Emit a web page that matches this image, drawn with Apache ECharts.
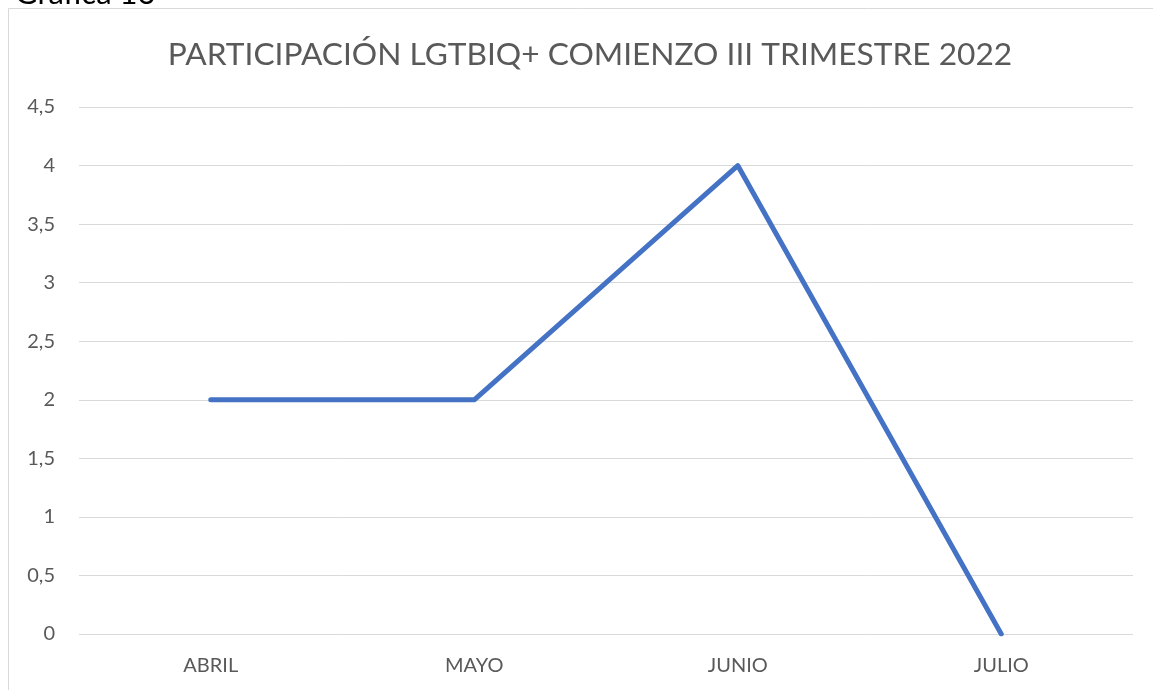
<!DOCTYPE html>
<html><head><meta charset="utf-8">
<script src="https://cdn.jsdelivr.net/npm/echarts@6/dist/echarts.min.js"></script>
<style>html,body{margin:0;padding:0;background:#fff}#c{width:1153px;height:690px}</style>
</head><body><div id="c"></div>
<script>
const categories = ['ABRIL', 'MAYO', 'JUNIO', 'JULIO'];
const values = [2, 2, 4, 0];
const titleText = 'PARTICIPACIÓN LGTBIQ+ COMIENZO III TRIMESTRE 2022';
const captionText = 'Gráfica 16';

const chart = echarts.init(document.getElementById('c'), null, {renderer: 'canvas'});
const font = 'Lato, "Open Sans", sans-serif';
chart.setOption({
  animation: false,
  backgroundColor: '#fff',
  title: {
    text: titleText, left: 585, top: 34, textAlign: 'center',
    textStyle: {fontFamily: font, fontSize: 31.7, fontWeight: 'normal', color: '#595959'}
  },
  graphic: [
    {type: 'rect', shape: {x: 8.5, y: 8.5, width: 1160, height: 700}, style: {fill: 'none', stroke: '#d9d9d9', lineWidth: 1}, z: 0},
    {type: 'text', left: 15, top: -22, style: {text: captionText, font: '31px ' + font, fill: '#000'}}
  ],
  grid: {left: 79, right: 20, top: 107, bottom: 56, containLabel: false},
  xAxis: {
    type: 'category', data: categories, boundaryGap: true,
    axisLine: {show: false}, axisTick: {show: false},
    axisLabel: {margin: 22, fontFamily: font, fontSize: 20, color: '#595959'}
  },
  yAxis: {
    type: 'value', min: 0, max: 4.5, interval: 0.5,
    axisLine: {show: false}, axisTick: {show: false},
    splitLine: {lineStyle: {color: '#d9d9d9', width: 1}},
    axisLabel: {margin: 24, fontFamily: font, fontSize: 20, color: '#595959',
      formatter: v => String(v).replace('.', ',')}
  },
  series: [{
    type: 'line', data: values, showSymbol: false, symbol: 'none',
    lineStyle: {color: '#4472C4', width: 5, cap: 'round', join: 'round'}
  }]
});
</script></body></html>
